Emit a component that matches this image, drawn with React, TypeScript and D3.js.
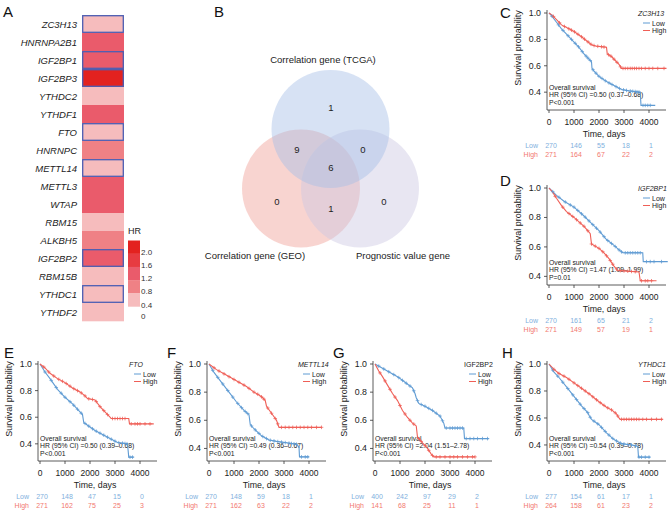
import React from 'react';
import * as d3 from 'd3';

type Pt = [number, number];

// ---------- Panel A: heatmap ----------
const heatGenes = ['ZC3H13', 'HNRNPA2B1', 'IGF2BP1', 'IGF2BP3', 'YTHDC2', 'YTHDF1', 'FTO', 'HNRNPC', 'METTL14', 'METTL3', 'WTAP', 'RBM15', 'ALKBH5', 'IGF2BP2', 'RBM15B', 'YTHDC1', 'YTHDF2'];
const heatHR = [0.5, 1.4, 1.4, 2.1, 0.6, 1.4, 0.5, 1.0, 0.5, 1.4, 1.4, 0.6, 1.0, 1.4, 0.6, 0.5, 0.6];
const boxedGenes = ['ZC3H13', 'IGF2BP1', 'IGF2BP3', 'FTO', 'METTL14', 'IGF2BP2', 'YTHDC1'];
const hrBreaks = [0.8, 1.2, 1.6, 2.0];
const hrPalette = ['#f6bcbd', '#ef8185', '#ea5b6b', '#e73b41', '#e3221f'];
const hrLegendLabels = ['2.0', '1.6', '1.2', '0.8', '0.4', '0'];

// ---------- Panel B: venn ----------
const vennSetNames = ['Correlation gene (TCGA)', 'Correlation gene (GEO)', 'Prognostic value gene'];
const vennRegionKeys = ['T', 'TG', 'TP', 'TGP', 'G', 'GP', 'P'];
const vennRegionCounts = [1, 9, 0, 6, 0, 1, 0];

// ---------- KM panels ----------
const timeTicks = [0, 1000, 2000, 3000, 4000];
const survTicks = [0.4, 0.6, 0.8, 1.0];

const cLow: Pt[] = [[0, 1], [100, 0.98], [300, 0.93], [500, 0.88], [700, 0.84], [1000, 0.78], [1200, 0.74], [1400, 0.69], [1600, 0.65], [1700, 0.63], [1720, 0.58], [1800, 0.56], [2000, 0.52], [2300, 0.48], [2600, 0.45], [2900, 0.42], [3200, 0.41], [3650, 0.40], [3680, 0.30], [4250, 0.30]];
const cHigh: Pt[] = [[0, 1], [150, 0.98], [300, 0.95], [500, 0.91], [800, 0.88], [1000, 0.86], [1300, 0.82], [1500, 0.79], [1700, 0.76], [1850, 0.75], [2300, 0.74], [2330, 0.69], [2500, 0.67], [2650, 0.64], [2800, 0.61], [2900, 0.58], [4700, 0.58]];
const cLowCens = [120, 380, 560, 760, 900, 1050, 1180, 1330, 1480, 1560, 1650, 1760, 1880, 2000, 2120, 2250, 2400, 2520, 2680, 2820, 2980, 3100, 3250, 3350, 3450, 3520, 3600, 3760, 3850, 3950, 4050];
const cHighCens = [180, 420, 620, 790, 900, 1020, 1160, 1300, 1420, 1560, 1680, 1800, 1950, 2100, 2200, 2380, 2480, 2600, 2720, 2860, 2960, 3050, 3150, 3250, 3330, 3420, 3500, 3600, 3700, 3850, 4000, 4150, 4350, 4600];
const cLowRisk = [270, 146, 55, 18, 1];
const cHighRisk = [271, 164, 67, 22, 2];

const dLow: Pt[] = [[0, 1], [300, 0.95], [600, 0.91], [1000, 0.87], [1400, 0.81], [1700, 0.76], [2000, 0.71], [2300, 0.65], [2600, 0.61], [2800, 0.58], [2950, 0.56], [3750, 0.56], [3770, 0.50], [4750, 0.50]];
const dHigh: Pt[] = [[0, 1], [150, 0.97], [300, 0.93], [500, 0.88], [700, 0.84], [1000, 0.80], [1400, 0.74], [1600, 0.70], [1650, 0.69], [1700, 0.62], [2000, 0.59], [2200, 0.56], [2400, 0.52], [2600, 0.47], [2750, 0.44], [3600, 0.43], [3650, 0.37], [4300, 0.37]];
const dLowCens = [150, 400, 650, 850, 1000, 1150, 1300, 1450, 1600, 1750, 1900, 2050, 2200, 2350, 2500, 2650, 2800, 2900, 3050, 3150, 3250, 3350, 3450, 3550, 3650, 3900, 4050, 4200, 4500];
const dHighCens = [250, 550, 800, 950, 1100, 1250, 1400, 1550, 1700, 1850, 2000, 2150, 2300, 2450, 2550, 2700, 2850, 3000, 3150, 3300, 3450, 3700, 3850, 3950, 4100];
const dLowRisk = [270, 161, 65, 21, 2];
const dHighRisk = [271, 149, 57, 19, 1];

const eLow: Pt[] = [[0, 1], [200, 0.94], [400, 0.89], [700, 0.81], [1000, 0.75], [1300, 0.70], [1600, 0.64], [1700, 0.62], [1750, 0.56], [1900, 0.54], [2200, 0.50], [2500, 0.47], [2800, 0.44], [3100, 0.41], [3500, 0.40], [3550, 0.30], [3750, 0.30]];
const eHigh: Pt[] = [[0, 1], [200, 0.97], [400, 0.93], [700, 0.89], [1000, 0.86], [1300, 0.82], [1600, 0.79], [1800, 0.76], [1900, 0.74], [2200, 0.73], [2400, 0.68], [2600, 0.64], [2800, 0.60], [2850, 0.59], [3550, 0.59], [3580, 0.55], [4550, 0.55]];
const eLowCens = [200, 450, 650, 850, 1000, 1200, 1350, 1500, 1650, 1800, 1950, 2100, 2250, 2400, 2550, 2700, 2850, 3000, 3150, 3300, 3400, 3480, 3600, 3700];
const eHighCens = [150, 350, 550, 750, 900, 1050, 1200, 1350, 1500, 1650, 1800, 1950, 2100, 2250, 2400, 2550, 2700, 2900, 3000, 3100, 3200, 3300, 3400, 3650, 3800, 3900, 4000, 4200, 4400];
const eLowRisk = [270, 148, 47, 15, 0];
const eHighRisk = [271, 162, 75, 25, 3];

const fLow: Pt[] = [[0, 1], [200, 0.94], [500, 0.87], [800, 0.80], [1100, 0.73], [1400, 0.67], [1600, 0.64], [1650, 0.57], [1800, 0.54], [2100, 0.49], [2400, 0.46], [2700, 0.45], [3100, 0.44], [3500, 0.43], [3600, 0.41], [3620, 0.34], [4000, 0.34]];
const fHigh: Pt[] = [[0, 1], [300, 0.96], [600, 0.93], [900, 0.90], [1200, 0.87], [1500, 0.84], [1800, 0.80], [2000, 0.78], [2150, 0.76], [2250, 0.74], [2300, 0.70], [2500, 0.65], [2700, 0.60], [2800, 0.55], [4500, 0.55]];
const fLowCens = [150, 350, 550, 750, 950, 1150, 1300, 1450, 1550, 1700, 1850, 2000, 2150, 2300, 2450, 2600, 2750, 2900, 3050, 3200, 3300, 3400, 3500, 3700, 3850, 3950];
const fHighCens = [200, 400, 600, 800, 1000, 1200, 1400, 1600, 1800, 1950, 2100, 2200, 2350, 2500, 2650, 2750, 2900, 3050, 3200, 3350, 3500, 3650, 3800, 3950, 4100, 4300, 4500];
const fLowRisk = [270, 148, 59, 18, 1];
const fHighRisk = [271, 162, 63, 22, 2];

const gLow: Pt[] = [[0, 1], [300, 0.97], [600, 0.94], [900, 0.91], [1200, 0.87], [1500, 0.83], [1600, 0.79], [1650, 0.76], [1750, 0.72], [2000, 0.70], [2300, 0.67], [2600, 0.63], [2750, 0.58], [2800, 0.545], [3550, 0.545], [3580, 0.47], [4550, 0.47]];
const gHigh: Pt[] = [[0, 1], [150, 0.95], [300, 0.91], [500, 0.85], [700, 0.79], [900, 0.74], [1100, 0.67], [1300, 0.62], [1500, 0.58], [1650, 0.56], [1700, 0.48], [1900, 0.44], [2100, 0.40], [2250, 0.36], [2350, 0.34], [4000, 0.34]];
const gLowCens = [150, 350, 550, 750, 950, 1100, 1250, 1400, 1550, 1700, 1850, 2000, 2150, 2300, 2450, 2600, 2700, 2850, 3000, 3100, 3200, 3300, 3400, 3500, 3650, 3800, 3950, 4100, 4300, 4500];
const gHighCens = [200, 400, 600, 800, 1000, 1200, 1400, 1550, 1750, 1850, 2000, 2150, 2300, 2450, 2600, 2800, 3000, 3150, 3300, 3500, 3700, 3900, 4000];
const gLowRisk = [400, 242, 97, 29, 2];
const gHighRisk = [141, 68, 25, 11, 1];

const hLow: Pt[] = [[0, 1], [200, 0.94], [400, 0.90], [700, 0.83], [1000, 0.76], [1300, 0.69], [1550, 0.64], [1600, 0.62], [1700, 0.59], [2000, 0.55], [2300, 0.49], [2600, 0.44], [2900, 0.41], [3300, 0.40], [3550, 0.39], [3580, 0.31], [4050, 0.31]];
const hHigh: Pt[] = [[0, 1], [200, 0.96], [400, 0.93], [700, 0.90], [1000, 0.86], [1300, 0.82], [1600, 0.78], [1800, 0.75], [2000, 0.72], [2300, 0.68], [2500, 0.66], [2700, 0.63], [2800, 0.60], [2850, 0.59], [4550, 0.59]];
const hLowCens = [150, 350, 550, 750, 950, 1100, 1250, 1400, 1550, 1650, 1800, 1950, 2100, 2250, 2400, 2550, 2700, 2850, 3000, 3150, 3300, 3450, 3600, 3700, 3850, 4000];
const hHighCens = [200, 400, 600, 800, 1000, 1150, 1300, 1450, 1600, 1750, 1900, 2050, 2200, 2350, 2500, 2650, 2750, 2900, 3000, 3100, 3200, 3300, 3400, 3500, 3600, 3750, 3900, 4100, 4300, 4500];
const hLowRisk = [277, 154, 61, 17, 1];
const hHighRisk = [264, 158, 61, 23, 2];

const FONT = '"Liberation Sans", Arial, Helvetica, sans-serif';
const LOW_COL = '#5f9bd3';
const HIGH_COL = '#ef5f57';
const LOW_TXT = '#7fb0de';
const HIGH_TXT = '#f27970';
const TXT = '#222';

interface KMCfg {
  letter: string; letterX: number; letterY: number;
  gene: string; italic: boolean;
  low: Pt[]; high: Pt[]; lowCens: number[]; highCens: number[];
  lowRisk: number[]; highRisk: number[];
  hr: string; p: string;
  x0: number; y1: number; ymin: number;
}

const kmPanels: KMCfg[] = [
  { letter: 'C', letterX: 500, letterY: 18, gene: 'ZC3H13', italic: true, low: cLow, high: cHigh, lowCens: cLowCens, highCens: cHighCens, lowRisk: cLowRisk, highRisk: cHighRisk, hr: 'HR (95% CI) =0.50 (0.37–0.68)', p: 'P<0.001', x0: 549, y1: 13, ymin: 0.28 },
  { letter: 'D', letterX: 500, letterY: 186, gene: 'IGF2BP1', italic: true, low: dLow, high: dHigh, lowCens: dLowCens, highCens: dHighCens, lowRisk: dLowRisk, highRisk: dHighRisk, hr: 'HR (95% CI) =1.47 (1.09–1.99)', p: 'P=0.01', x0: 549, y1: 188, ymin: 0.355 },
  { letter: 'E', letterX: 4, letterY: 358, gene: 'FTO', italic: true, low: eLow, high: eHigh, lowCens: eLowCens, highCens: eHighCens, lowRisk: eLowRisk, highRisk: eHighRisk, hr: 'HR (95% CI) =0.50 (0.39–0.68)', p: 'P<0.001', x0: 40, y1: 364, ymin: 0.286 },
  { letter: 'F', letterX: 167, letterY: 358, gene: 'METTL14', italic: true, low: fLow, high: fHigh, lowCens: fLowCens, highCens: fHighCens, lowRisk: fLowRisk, highRisk: fHighRisk, hr: 'HR (95% CI) =0.49 (0.36–0.67)', p: 'P<0.001', x0: 209, y1: 364, ymin: 0.325 },
  { letter: 'G', letterX: 333, letterY: 358, gene: 'IGF2BP2', italic: false, low: gLow, high: gHigh, lowCens: gLowCens, highCens: gHighCens, lowRisk: gLowRisk, highRisk: gHighRisk, hr: 'HR (95% CI) =2.04 (1.51–2.78)', p: 'P<0.001', x0: 375, y1: 364, ymin: 0.325 },
  { letter: 'H', letterX: 502, letterY: 358, gene: 'YTHDC1', italic: true, low: hLow, high: hHigh, lowCens: hLowCens, highCens: hHighCens, lowRisk: hLowRisk, highRisk: hHighRisk, hr: 'HR (95% CI) =0.54 (0.39–0.78)', p: 'P<0.001', x0: 549, y1: 364, ymin: 0.296 },
];

function valueAt(curve: Pt[], t: number): number | null {
  if (t > curve[curve.length - 1][0]) return null;
  for (let i = 1; i < curve.length; i++) {
    const [t0, s0] = curve[i - 1];
    const [t1, s1] = curve[i];
    if (t >= t0 && t <= t1) {
      if (t1 === t0) return s1;
      return s0 + (s1 - s0) * (t - t0) / (t1 - t0);
    }
  }
  return null;
}

function KMPanel({ cfg }: { cfg: KMCfg }) {
  const { x0, y1, ymin } = cfg;
  const x = d3.scaleLinear().domain([0, 4000]).range([x0, x0 + 100]);
  const y = d3.scaleLinear().domain([ymin, 1]).range([y1 + 95, y1]);
  const line = d3.line<Pt>().x(d => x(d[0])).y(d => y(d[1]));
  const axisY = y1 + 97;
  const cross = (t: number, curve: Pt[], col: string, key: string) => {
    const v = valueAt(curve, t);
    if (v === null) return null;
    const cx = x(t), cy = y(v);
    return (
      <g key={key} stroke={col} strokeWidth={0.75}>
        <line x1={cx - 1.8} x2={cx + 1.8} y1={cy} y2={cy} />
        <line x1={cx} x2={cx} y1={cy - 1.8} y2={cy + 1.8} />
      </g>
    );
  };
  return (
    <g fontFamily={FONT}>
      <text x={cfg.letterX} y={cfg.letterY} fontSize={15} fill="#111">{cfg.letter}</text>
      {/* y axis */}
      <line x1={x0 - 2} x2={x0 - 2} y1={y(1) - 3} y2={axisY} stroke="#333" strokeWidth={0.8} />
      {survTicks.map(v => (
        <g key={v}>
          <line x1={x0 - 5} x2={x0 - 2} y1={y(v)} y2={y(v)} stroke="#333" strokeWidth={0.8} />
          <text x={x0 - 8} y={y(v) + 3} fontSize={8.8} textAnchor="end" fill={TXT}>{d3.format('.1f')(v)}</text>
        </g>
      ))}
      <text transform={`translate(${x0 - 28},${y1 + 35}) rotate(-90)`} fontSize={9} textAnchor="middle" fill={TXT}>Survival probability</text>
      {/* x axis */}
      <line x1={x0 - 2} x2={x0 + 117} y1={axisY} y2={axisY} stroke="#333" strokeWidth={0.8} />
      {timeTicks.map(t => (
        <g key={t}>
          <line x1={x(t)} x2={x(t)} y1={axisY} y2={axisY + 3} stroke="#333" strokeWidth={0.8} />
          <text x={x(t)} y={y1 + 112} fontSize={8.5} textAnchor="middle" fill={TXT}>{t}</text>
        </g>
      ))}
      <text x={x0 + 55} y={y1 + 123.5} fontSize={8.8} textAnchor="middle" fill={TXT}>Time, days</text>
      {/* risk table */}
      <text x={x0 - 11} y={y1 + 134.5} fontSize={7} textAnchor="end" fill={LOW_TXT}>Low</text>
      <text x={x0 - 11} y={y1 + 143.5} fontSize={7} textAnchor="end" fill={HIGH_TXT}>High</text>
      {cfg.lowRisk.map((n, i) => (
        <text key={'l' + i} x={x(timeTicks[i]) + 2} y={y1 + 134.5} fontSize={7} textAnchor="middle" fill={LOW_TXT}>{n}</text>
      ))}
      {cfg.highRisk.map((n, i) => (
        <text key={'h' + i} x={x(timeTicks[i]) + 2} y={y1 + 143.5} fontSize={7} textAnchor="middle" fill={HIGH_TXT}>{n}</text>
      ))}
      {/* annotation */}
      <text x={x0} y={y1 + 76.5} fontSize={6.8} fill={TXT}>Overall survival</text>
      <text x={x0} y={y1 + 84} fontSize={6.8} fill={TXT}>{cfg.hr}</text>
      <text x={x0} y={y1 + 91.5} fontSize={6.8} fill={TXT}>{cfg.p}</text>
      {/* curves */}
      <path d={line(cfg.low) || ''} fill="none" stroke={LOW_COL} strokeWidth={1.1} />
      <path d={line(cfg.high) || ''} fill="none" stroke={HIGH_COL} strokeWidth={1.1} />
      {cfg.lowCens.map((t, i) => cross(t, cfg.low, LOW_COL, 'lc' + i))}
      {cfg.highCens.map((t, i) => cross(t, cfg.high, HIGH_COL, 'hc' + i))}
      {/* legend */}
      <text x={x0 + 89} y={y1 + 3} fontSize={7} fontStyle={cfg.italic ? 'italic' : 'normal'} fill={TXT}>{cfg.gene}</text>
      <line x1={x0 + 94} x2={x0 + 101} y1={y1 + 10} y2={y1 + 10} stroke={LOW_COL} strokeWidth={1} />
      <text x={x0 + 103} y={y1 + 12.5} fontSize={7} fill={TXT}>Low</text>
      <line x1={x0 + 94} x2={x0 + 101} y1={y1 + 17.5} y2={y1 + 17.5} stroke={HIGH_COL} strokeWidth={1} />
      <text x={x0 + 103} y={y1 + 20} fontSize={7} fill={TXT}>High</text>
    </g>
  );
}

function Heatmap() {
  const yBand = d3.scaleBand<string>().domain(heatGenes).range([15, 15 + 18 * heatGenes.length]);
  const color = d3.scaleThreshold<number, string>().domain(hrBreaks).range(hrPalette);
  const cellX = 82, cellW = 42;
  const legendColors = hrPalette.slice().reverse();
  const blockH = 13.2, legTop = 240.5, legX = 128, legW = 12;
  return (
    <g fontFamily={FONT}>
      <text x={3} y={17} fontSize={15} fill="#111">A</text>
      {heatGenes.map((g, i) => (
        <g key={g}>
          <rect x={cellX} y={yBand(g)!} width={cellW} height={yBand.bandwidth() + 0.3} fill={color(heatHR[i])} />
          <text x={77} y={yBand(g)! + 12.5} fontSize={9.5} fontStyle="italic" textAnchor="end" fill={TXT}>{g}</text>
        </g>
      ))}
      {heatGenes.filter(g => boxedGenes.includes(g)).map(g => (
        <rect key={'b' + g} x={cellX + 0.7} y={yBand(g)! + 0.7} width={cellW - 1.4} height={yBand.bandwidth() - 1.4} fill="none" stroke="#4c5fb4" strokeWidth={1.3} />
      ))}
      <text x={legX} y={234} fontSize={9} fill={TXT}>HR</text>
      {legendColors.map((c, i) => (
        <rect key={c} x={legX} y={legTop + i * blockH} width={legW} height={blockH + 0.2} fill={c} />
      ))}
      {hrLegendLabels.map((l, i) => (
        <text key={l} x={legX + 13} y={i < 5 ? legTop + (i + 1) * blockH + 1 : legTop + 5 * blockH + 12.5} fontSize={8} fill="#333">{l}</text>
      ))}
    </g>
  );
}

function Venn() {
  const r = 59;
  const circles = [
    { name: vennSetNames[1], cx: 301, cy: 188.5, fill: '#f0a096' },
    { name: vennSetNames[2], cx: 360, cy: 188.5, fill: '#cbc8e3' },
    { name: vennSetNames[0], cx: 330.5, cy: 129, fill: '#a6bfe6' },
  ];
  const regionPos: Record<string, [number, number]> = {
    T: [331, 107], TG: [297, 149], TP: [363, 149], TGP: [331, 167], G: [277, 201], GP: [331, 208], P: [384, 201],
  };
  return (
    <g fontFamily={FONT}>
      <text x={214} y={17} fontSize={15} fill="#111">B</text>
      {circles.map(c => (
        <circle key={c.name} cx={c.cx} cy={c.cy} r={r} fill={c.fill} fillOpacity={0.45} />
      ))}
      <text x={323} y={63} fontSize={9.5} textAnchor="middle" fill={TXT}>{vennSetNames[0]}</text>
      <text x={255} y={259} fontSize={9.5} textAnchor="middle" fill={TXT}>{vennSetNames[1]}</text>
      <text x={403} y={259} fontSize={9.5} textAnchor="middle" fill={TXT}>{vennSetNames[2]}</text>
      {vennRegionKeys.map((k, i) => (
        <text key={k} x={regionPos[k][0]} y={regionPos[k][1] + 3.5} fontSize={9.5} textAnchor="middle" fill={TXT}>{vennRegionCounts[i]}</text>
      ))}
    </g>
  );
}

export default function App() {
  return (
    <svg width={670} height={511} style={{ position: 'absolute', left: 0, top: 0, background: '#fff' }}>
      <rect width={670} height={511} fill="#fff" />
      <Heatmap />
      <Venn />
      {kmPanels.map(p => <KMPanel key={p.letter} cfg={p} />)}
    </svg>
  );
}
